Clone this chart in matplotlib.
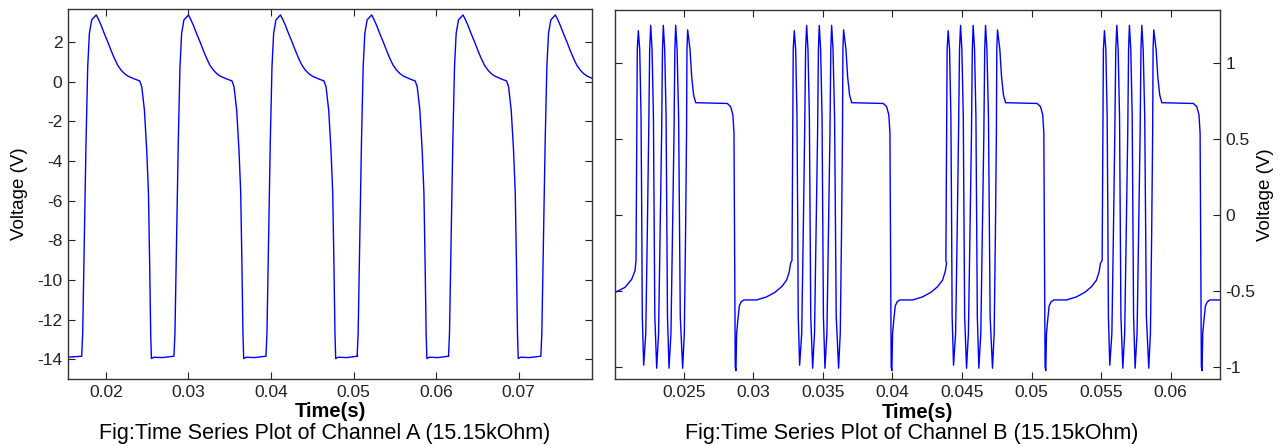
import numpy as np
import matplotlib
matplotlib.use("Agg")
import matplotlib.pyplot as plt
from matplotlib.ticker import FormatStrFormatter

plt.rcParams['font.family'] = ['Liberation Sans', 'DejaVu Sans']
plt.rcParams['axes.unicode_minus'] = False

## Channel A: one cycle, times relative to each peak (s)
a_peak_times = [0.01882, 0.0300, 0.04115, 0.0522, 0.06327, 0.07446]
a_cycle_dt = [-0.00176, -0.00164, -0.00143, -0.00124, -0.00103, -0.00083, -0.00055, 0.0,
              0.00027, 0.00058, 0.00097, 0.00139, 0.00178, 0.0022, 0.00259, 0.00301,
              0.0034, 0.00382, 0.00463, 0.00527, 0.00552,
              0.00584, 0.00612, 0.00633, 0.00648, 0.0066, 0.00669, 0.0070, 0.0080, 0.00936]
a_cycle_v = [-13.85, -12.7, -7.66, -3.11, 0.76, 2.44, 3.12, 3.37,
             3.15, 2.86, 2.44, 2.02, 1.6, 1.18, 0.84, 0.59,
             0.42, 0.29, 0.14, 0.04, -0.25,
             -1.43, -3.45, -5.6, -9.3, -12.7, -13.97, -13.9, -13.92, -13.85]
a_lead_t = [0.0154, 0.0160]
a_lead_v = [-13.9, -13.88]

## Channel B: one cycle, times relative to each burst start (ms)
b_rise_times = [0.021573, 0.03278, 0.04384, 0.05507]
b_cycle_ms = [0.0, 0.05, 0.09, 0.165, 0.265, 0.36, 0.41, 0.45, 0.55,
              0.70, 0.81, 0.91, 0.98, 1.055, 1.15, 1.25, 1.30, 1.35, 1.485,
              1.62, 1.73, 1.84, 1.90, 1.96, 2.06, 2.16, 2.21, 2.26, 2.37,
              2.51, 2.62, 2.73, 2.79, 2.85, 2.95, 3.06, 3.12, 3.18, 3.35,
              3.47, 3.56, 3.63, 3.66, 3.71, 3.88, 4.0, 4.14, 4.29,
              5.5, 6.56, 6.80, 6.96, 7.04, 7.09, 7.13, 7.18, 7.23, 7.32, 7.42,
              7.56, 7.75, 8.67, 9.38, 9.98, 10.46, 10.82, 11.01, 11.11]
b_cycle_v = [-0.30, 0.49, 1.09, 1.215, 1.09, 0.65, -0.01, -0.67, -0.99,
             -0.78, -0.12, 0.54, 1.09, 1.25, 1.09, 0.65, -0.01, -0.67, -1.01,
             -0.78, -0.12, 0.54, 1.09, 1.25, 1.09, 0.65, -0.01, -0.67, -1.01,
             -0.78, -0.12, 0.54, 1.09, 1.25, 1.09, 0.65, -0.01, -0.67, -1.01,
             -0.78, -0.12, 0.54, 1.09, 1.22, 1.09, 0.91, 0.79, 0.74,
             0.737, 0.735, 0.714, 0.66, 0.54, -0.34, -1.0, -1.026, -0.78, -0.69, -0.60,
             -0.572, -0.56, -0.56, -0.54, -0.51, -0.473, -0.43, -0.374, -0.318]
b_lead_t = [0.02004, 0.02078, 0.02126, 0.0215]
b_lead_v = [-0.512, -0.477, -0.424, -0.367]

a_t = np.concatenate([a_lead_t] + [p + np.array(a_cycle_dt) for p in a_peak_times])
a_v = np.concatenate([a_lead_v] + [a_cycle_v for p in a_peak_times])
b_t = np.concatenate([b_lead_t] + [r + np.array(b_cycle_ms) / 1000.0 for r in b_rise_times])
b_v = np.concatenate([b_lead_v] + [b_cycle_v for r in b_rise_times])

fig = plt.figure(figsize=(12.86, 4.45), dpi=100)
ax1 = fig.add_axes([68/1286, 66/445, 524/1286, 370/445])
ax2 = fig.add_axes([614.7/1286, 65.7/445, 605.3/1286, 369.3/445])

ax1.plot(a_t, a_v, color='#0000ff', lw=1.0)
ax1.set_xlim(0.0154, 0.0789)
ax1.set_ylim(-15, 3.67)
ax1.set_xticks([0.02, 0.03, 0.04, 0.05, 0.06, 0.07])
ax1.set_yticks(list(range(-14, 3, 2)))
ax1.set_ylabel('Voltage (V)', fontsize=13.5)
ax1.yaxis.set_label_coords(-0.076, 0.5)

ax2.plot(b_t, b_v, color='#0000ff', lw=1.0)
ax2.set_xlim(0.02004, 0.06354)
ax2.set_ylim(-1.083, 1.351)
ax2.set_xticks([0.025, 0.03, 0.035, 0.04, 0.045, 0.05, 0.055, 0.06])
ax2.set_yticks([-1, -0.5, 0, 0.5, 1])
ax2.yaxis.tick_right()
ax2.yaxis.set_label_position('right')
ax2.set_ylabel('Voltage (V)', fontsize=13.5)
ax2.yaxis.set_label_coords(1.061, 0.5)

for ax in (ax1, ax2):
    ax.xaxis.set_major_formatter(FormatStrFormatter('%g'))
    ax.yaxis.set_major_formatter(FormatStrFormatter('%g'))
    ax.tick_params(direction='in', length=5, top=True, bottom=True, left=True, right=True,
                   labelsize=12.5, colors='#222222', width=0.8, pad=4)
    for s in ax.spines.values():
        s.set_color('#333333')
        s.set_linewidth(1.0)
    ax.set_xlabel('Time(s)', fontsize=14.5, fontweight='bold')
    ax.xaxis.set_label_coords(0.5, -0.063)

fig.text(325/1286, 1 - 433/445, 'Fig:Time Series Plot of Channel A (15.15kOhm)',
         ha='center', va='center', fontsize=15.5)
fig.text(912/1286, 1 - 433/445, 'Fig:Time Series Plot of Channel B (15.15kOhm)',
         ha='center', va='center', fontsize=15.5)

fig.savefig('out.png', dpi=100)
